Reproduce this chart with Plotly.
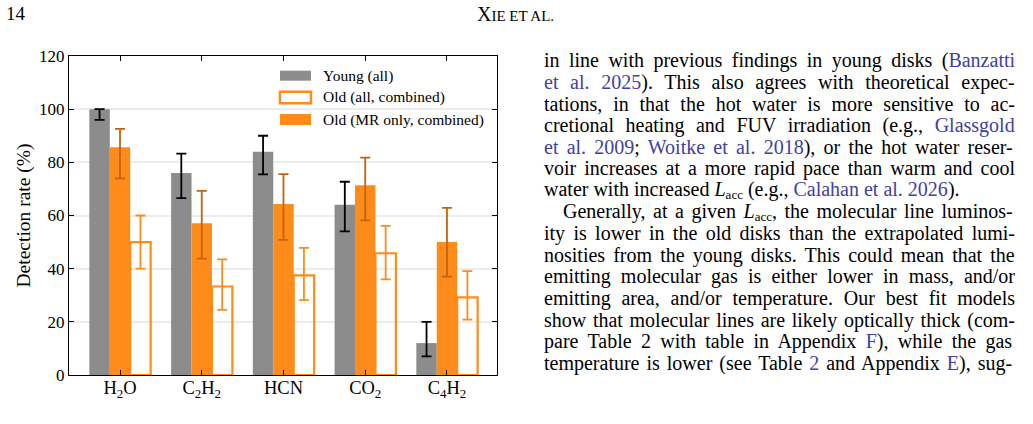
import glob
import os
import struct
import plotly.graph_objects as go

# ---------------- data ----------------
molecules = ["H<sub>2</sub>O", "C<sub>2</sub>H<sub>2</sub>", "HCN", "CO<sub>2</sub>", "C<sub>4</sub>H<sub>2</sub>"]

young = [100.0, 76.0, 84.0, 64.0, 12.0]
young_lo = [96.0, 66.5, 75.5, 54.0, 7.0]
young_hi = [100.0, 83.3, 90.0, 72.7, 20.0]

old_mr = [85.7, 57.1, 64.3, 71.4, 50.0]
old_mr_lo = [74.0, 43.8, 50.8, 58.2, 37.0]
old_mr_hi = [92.6, 69.3, 75.6, 81.8, 62.9]

old_all = [50.0, 33.3, 37.5, 45.8, 29.2]
old_all_lo = [40.0, 24.5, 28.2, 36.0, 20.8]
old_all_hi = [60.0, 43.5, 47.8, 56.1, 39.1]

legend_labels = ["Young (all)", "Old (all, combined)", "Old (MR only, combined)"]
y_title = "Detection rate (%)"
y_ticks = [0, 20, 40, 60, 80, 100, 120]

page_number = "14"
running_head = "<span style='font-size:20px'>X</span><span style='font-size:15px'>IE ET AL.</span>"

body_lines = [
    "in line with previous findings in young disks ([[Banzatti]]",
    "[[et al. 2025]]).  This also agrees with theoretical expec-",
    "tations, in that the hot water is more sensitive to ac-",
    "cretional heating and FUV irradiation (e.g., [[Glassgold]]",
    "[[et al. 2009]]; [[Woitke et al. 2018]]), or the hot water reser-",
    "voir increases at a more rapid pace than warm and cool",
    "water with increased {L} (e.g., [[Calahan et al. 2026]]).",
    "Generally, at a given {L}, the molecular line luminos-",
    "ity is lower in the old disks than the extrapolated lumi-",
    "nosities from the young disks. This could mean that the",
    "emitting molecular gas is either lower in mass, and/or",
    "emitting area, and/or temperature. Our best fit models",
    "show that molecular lines are likely optically thick (com-",
    "pare Table 2 with table in Appendix [[F]]), while the gas",
    "temperature is lower (see Table [[2]] and Appendix [[E]]), sug-",
]
paragraph_end = {6}
indented = {7}

# ---------------- styles ----------------
GRAY = "#8c8c8c"
ORANGE = "#ff8c1a"
DARK_ORANGE = "#c4630f"
LINK = "#4141a3"
SERIF = "Liberation Serif"

L_MARGIN, R_EDGE, T_MARGIN, B_EDGE = 69, 497, 56, 375
W, H = 1033, 424


def px(xp):
    return (xp - L_MARGIN) / (R_EDGE - L_MARGIN)


def py(yp):
    return (B_EDGE - yp) / (B_EDGE - T_MARGIN)


def err(vals, lo, hi):
    return dict(type="data", symmetric=False,
                array=[h - v for v, h in zip(vals, hi)],
                arrayminus=[v - l for v, l in zip(vals, lo)])


fig = go.Figure()
e1 = err(young, young_lo, young_hi)
e1.update(color="black", thickness=1.8, width=5)
fig.add_trace(go.Bar(x=molecules, y=young, name=legend_labels[0],
                     marker=dict(color=GRAY, line=dict(width=0)), error_y=e1))
e2 = err(old_mr, old_mr_lo, old_mr_hi)
e2.update(color=DARK_ORANGE, thickness=1.8, width=5)
fig.add_trace(go.Bar(x=molecules, y=old_mr, name=legend_labels[2],
                     marker=dict(color=ORANGE, line=dict(width=0)), error_y=e2))
e3 = err(old_all, old_all_lo, old_all_hi)
e3.update(color=ORANGE, thickness=1.8, width=5)
fig.add_trace(go.Bar(x=molecules, y=old_all, name=legend_labels[1],
                     marker=dict(color="rgba(255,255,255,0)", line=dict(color=ORANGE, width=2.2)),
                     error_y=e3))

axis_common = dict(showline=True, linecolor="black", linewidth=1.3, mirror="allticks",
                   ticks="inside", ticklen=5, tickwidth=1, tickcolor="black")

fig.update_layout(
    width=W, height=H,
    margin=dict(l=L_MARGIN, r=W - R_EDGE, t=T_MARGIN, b=H - B_EDGE, autoexpand=False),
    paper_bgcolor="white", plot_bgcolor="white",
    barmode="group", bargap=0.25, bargroupgap=0,
    showlegend=False,
    xaxis=dict(type="category", range=[-0.624, 4.612], showgrid=False, ticklabelstandoff=-4,
               tickfont=dict(family=SERIF, size=18.5, color="black"), **axis_common),
    yaxis=dict(range=[0, 120], tickvals=y_ticks, showgrid=True, gridcolor="#ececec", gridwidth=1.5,
               zeroline=False, tickfont=dict(family=SERIF, size=17, color="black"),
               title=dict(text=y_title, font=dict(family=SERIF, size=19.5, color="black"), standoff=3),
               **axis_common),
)

# ---------------- legend (drawn manually) ----------------
leg_rows = [(70.7, 80.7), (91.7, 103.3), (114, 125)]
leg_style = [dict(fillcolor=GRAY, line=dict(width=0)),
             dict(fillcolor="white", line=dict(color=ORANGE, width=2.5)),
             dict(fillcolor=ORANGE, line=dict(width=0))]
for (y0, y1), st, lab in zip(leg_rows, leg_style, legend_labels):
    fig.add_shape(type="rect", xref="paper", yref="paper",
                  x0=px(280), x1=px(311), y0=py(y1), y1=py(y0), **st)
    fig.add_annotation(xref="paper", yref="paper", x=px(321), y=py((y0 + y1) / 2),
                       text=lab, showarrow=False, xanchor="left", yanchor="middle",
                       font=dict(family=SERIF, size=15.5, color="black"))

# ---------------- page header ----------------
fig.add_annotation(xref="paper", yref="paper", x=px(4), y=py(14), text=page_number,
                   showarrow=False, xanchor="left", yanchor="middle",
                   font=dict(family=SERIF, size=19, color="black"))
fig.add_annotation(xref="paper", yref="paper", x=px(475), y=py(14), text=running_head,
                   showarrow=False, xanchor="left", yanchor="middle",
                   font=dict(family=SERIF, size=20, color="black"))


# ---------------- text column with justification ----------------
def load_metrics(pattern):
    try:
        paths = []
        for base in ["/usr/share/fonts", "/usr/local/share/fonts", os.path.expanduser("~/.fonts")]:
            paths += glob.glob(os.path.join(base, "**", pattern), recursive=True)
        if not paths:
            return None
        data = open(paths[0], "rb").read()
        n = struct.unpack(">H", data[4:6])[0]
        tabs = {}
        for i in range(n):
            tag, _, off, _ = struct.unpack(">4sIII", data[12 + 16 * i:28 + 16 * i])
            tabs[tag.decode("latin1")] = off
        upem = struct.unpack(">H", data[tabs["head"] + 18:tabs["head"] + 20])[0]
        nh = struct.unpack(">H", data[tabs["hhea"] + 34:tabs["hhea"] + 36])[0]
        hm = tabs["hmtx"]
        adv = [struct.unpack(">H", data[hm + 4 * i:hm + 4 * i + 2])[0] for i in range(nh)]
        cm = tabs["cmap"]
        nt = struct.unpack(">H", data[cm + 2:cm + 4])[0]
        sub = None
        for i in range(nt):
            pid, eid, off = struct.unpack(">HHI", data[cm + 4 + 8 * i:cm + 12 + 8 * i])
            fmt = struct.unpack(">H", data[cm + off:cm + off + 2])[0]
            if pid == 3 and eid == 1 and fmt == 4:
                sub = cm + off
        if sub is None:
            return None
        seg2 = struct.unpack(">H", data[sub + 6:sub + 8])[0]
        seg = seg2 // 2
        ends = struct.unpack(">%dH" % seg, data[sub + 14:sub + 14 + seg2])
        so = sub + 16 + seg2
        starts = struct.unpack(">%dH" % seg, data[so:so + seg2])
        do = so + seg2
        deltas = struct.unpack(">%dh" % seg, data[do:do + seg2])
        ro = do + seg2
        ros = struct.unpack(">%dH" % seg, data[ro:ro + seg2])

        def gid(c):
            for i in range(seg):
                if ends[i] >= c:
                    if starts[i] > c:
                        return 0
                    if ros[i] == 0:
                        return (c + deltas[i]) & 0xFFFF
                    addr = ro + 2 * i + ros[i] + 2 * (c - starts[i])
                    g = struct.unpack(">H", data[addr:addr + 2])[0]
                    return (g + deltas[i]) & 0xFFFF if g else 0
            return 0

        def width(s):
            tot = 0
            for ch in s:
                g = gid(ord(ch))
                tot += adv[g] if g < nh else adv[-1]
            return tot / upem
        return width
    except Exception:
        return None


measure = load_metrics("LiberationSerif-Regular.ttf")
BODY_SIZE = 20
SUB_SIZE = 13
COL_LEFT, COL_RIGHT = 544, 1015
LINE0, LINE_STEP = 60.5, 21.64


def parse(line):
    toks = []
    i = 0
    buf = ""
    while i < len(line):
        if line.startswith("[[", i):
            if buf:
                toks.append(("t", buf)); buf = ""
            j = line.index("]]", i)
            toks.append(("a", line[i + 2:j]))
            i = j + 2
        elif line.startswith("{L}", i):
            if buf:
                toks.append(("t", buf)); buf = ""
            toks.append(("L", ""))
            i += 3
        else:
            buf += line[i]
            i += 1
    if buf:
        toks.append(("t", buf))
    return toks


for k, line in enumerate(body_lines):
    line = line.replace("  ", " ")
    toks = parse(line)
    x_left = COL_LEFT + (19 if k in indented else 0)
    ws = 0.0
    if measure is not None and k not in paragraph_end:
        nat = 0.0
        nsp = 0
        for kind, t in toks:
            if kind == "L":
                nat += measure("L") * BODY_SIZE + measure("acc") * SUB_SIZE
            else:
                nat += measure(t) * BODY_SIZE
                nsp += t.count(" ")
        if nsp:
            ws = (COL_RIGHT - x_left - nat) / nsp
    html = ""
    for kind, t in toks:
        if kind == "L":
            html += ("<span style='font-size:%dpx'><i>L</i></span>"
                     "<span style='font-size:%dpx;baseline-shift:-3px'>acc</span>") % (BODY_SIZE, SUB_SIZE)
        elif kind == "a":
            html += "<span style='font-size:%dpx;color:%s;word-spacing:%.2fpx'>%s</span>" % (
                BODY_SIZE, LINK, ws, t)
        else:
            html += "<span style='font-size:%dpx;word-spacing:%.2fpx'>%s</span>" % (BODY_SIZE, ws, t)
    fig.add_annotation(xref="paper", yref="paper", x=px(x_left - 2), y=py(LINE0 + k * LINE_STEP),
                       text=html, showarrow=False, xanchor="left", yanchor="middle",
                       font=dict(family=SERIF, size=BODY_SIZE, color="black"))

fig.write_html("out.html")
